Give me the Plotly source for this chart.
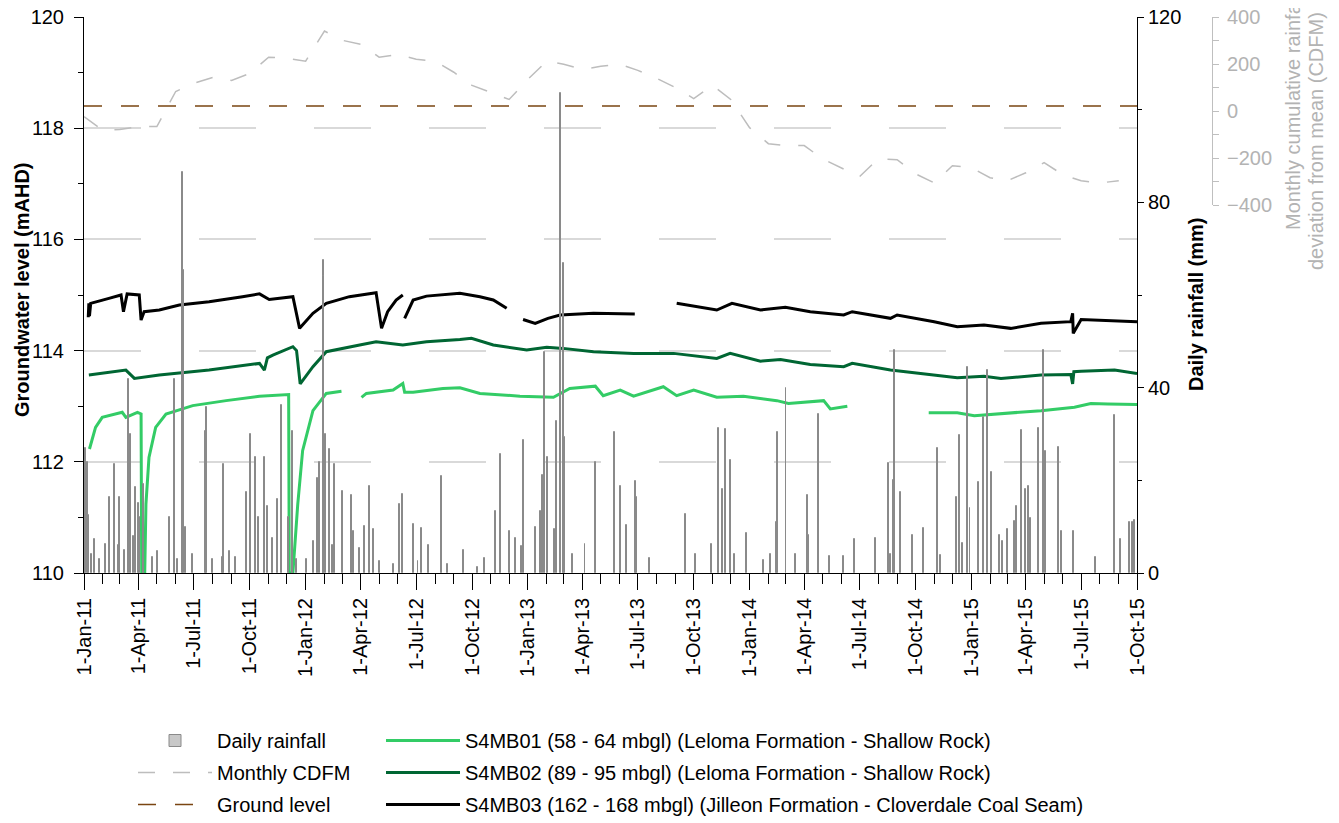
import pandas as pd
import plotly.graph_objects as go

START = pd.Timestamp("2011-01-01")

# ---------------- data ----------------
# Daily rainfall events (days since 1-Jan-2011, mm); other days ~0
rain_day = [1, 2, 5, 8, 12, 18, 25, 36, 42, 50, 56, 59, 66, 73, 76, 81, 85, 89, 91, 98,
            112, 121, 141, 149, 154, 162, 164, 167, 178, 200, 201, 212, 228, 230, 239, 250,
            267, 274, 282, 287, 297, 302, 311, 319, 326, 337, 344, 350, 366, 378, 385, 388,
            394, 395, 398, 404, 409, 413, 426, 440, 443, 454, 462, 470, 476, 487, 509, 520,
            525, 542, 550, 556, 568, 589, 599, 625, 648, 660, 677, 686, 700, 710, 721, 724,
            744, 751, 755, 758, 763, 774, 778, 784, 790, 792, 805, 825, 842, 873, 884, 894,
            908, 910, 931, 990, 1007, 1033, 1045, 1051, 1057, 1064, 1071, 1091, 1119, 1131,
            1140, 1142, 1156, 1172, 1191, 1193, 1210, 1228, 1251, 1268, 1304, 1324, 1328,
            1333, 1335, 1345, 1364, 1382, 1406, 1411, 1436, 1441, 1446, 1455, 1459, 1473,
            1481, 1488, 1494, 1508, 1513, 1521, 1533, 1536, 1543, 1551, 1555, 1559, 1572,
            1580, 1584, 1604, 1609, 1629, 1665, 1697, 1707, 1722, 1726, 1730]
rain_mm = [4, 27, 24, 12.5, 4, 7.3, 3, 6.2, 16.3, 23.5, 6, 16.3, 5, 41.9, 30, 8, 18.5, 15.2, 12, 19.2,
           3.5, 4.8, 12, 41.9, 3, 86.6, 65.4, 10, 4, 30.7, 35.8, 3, 3.5, 23.5, 4.8, 3.5,
           17.4, 30, 25, 12, 25, 14.5, 7.6, 16, 36.2, 12, 30.7, 3, 3, 7, 20.6, 23.9,
           67.6, 64, 30, 26.8, 6, 23.5, 17.8, 16.9, 9, 5.5, 10.2, 18.8, 9.5, 2.5, 2, 14.9,
           17, 10.5, 2.5, 9.8, 6, 21, 2, 4.9, 1.4, 3.2, 13.4, 25.6, 9.1, 7.6, 5.9, 28.6,
           9.9, 13.4, 21.2, 47.7, 25, 9.6, 32.8, 103.7, 67, 29.3, 4, 6.3, 24, 30.4, 18.8, 10.3,
           19.9, 16.4, 3.2, 12.8, 4.1, 6.3, 31.3, 18.1, 31.1, 24.3, 4, 8.7, 2.9, 4,
           11, 30.5, 40, 4, 16.9, 8.3, 34.4, 3.6, 3.6, 7.3, 7.6, 23.7, 4,
           20.1, 48.2, 17.4, 8.3, 9.8, 27, 3.9, 16.3, 29.7, 6.5, 44.5, 14, 19.6,
           33.6, 43.8, 21.7, 8.3, 7, 9.4, 11.2, 14.4, 30.8, 18.1, 18.8, 11.9, 31.3,
           48.1, 26.4, 27.1, 9, 9, 3.4, 34.2, 7.3, 11, 11.1, 11.5]

# Monthly CDFM (mm), first of each month from Jan-2011
cdfm_values = [-24, -83, -79, -66, -66, 83, 118, 143, 130, 160, 229, 224,
               212, 340, 301, 284, 229, 241, 220, 212, 165, 109, 79, 49,
               135, 212, 199, 177, 190, 199, 173, 139, 100, 53, 109, 49,
               -71, -139, -147, -147, -203, -242, -280, -203, -207, -267, -306, -233,
               -241, -284, -297, -263, -220, -271, -297, -306, -297]

ground_level = 118.4

# Groundwater levels (days since 1-Jan-2011, mAHD); None = logger gap
s4mb01_day = [9, 19, 30, 63, 69, 88, 94, 95, 100, 102, 107, 118, 135, 179, 234, 289, 337, 338,
              344, 352, 360, 377, 399, 424, None, 457, 465, 509, 525, 528, 542, 591, 619, 652,
              718, 773, 800, 842, 855, 883, 905, 954, 976, 1004, 1042, 1086, 1141, 1160, 1218,
              1229, 1257, None, 1391, 1438, 1466, 1504, 1576, 1631, 1658, 1686, 1734]
s4mb01_lvl = [112.23, 112.62, 112.80, 112.89, 112.80, 112.89, 112.86, 110.0, 110.0, 111.24,
              112.08, 112.62, 112.86, 113.01, 113.10, 113.18, 113.21, 110.0, 110.0, 111.24,
              112.20, 112.92, 113.23, 113.27, None, 113.16, 113.23, 113.29, 113.41, 113.25,
              113.25, 113.32, 113.33, 113.23, 113.18, 113.16, 113.32, 113.36, 113.19, 113.29,
              113.18, 113.35, 113.19, 113.29, 113.16, 113.18, 113.10, 113.05, 113.10, 112.95,
              113.00, None, 112.88, 112.88, 112.83, 112.86, 112.92, 112.98, 113.05, 113.04,
              113.03]

s4mb02_day = [8, 69, 83, 124, 206, 289, 297, 302, 311, 344, 350, 356, 377, 399, 454, 481, 525,
              564, 619, 638, 674, 729, 762, 789, 839, 905, 971, 1042, 1064, 1114, 1147, 1196,
              1251, 1265, 1328, 1389, 1438, 1482, 1510, 1576, 1625, 1628, 1630, 1642, 1697, 1734]
s4mb02_lvl = [113.56, 113.65, 113.50, 113.56, 113.65, 113.77, 113.65, 113.87, 113.92, 114.07,
              114.00, 113.40, 113.71, 113.98, 114.10, 114.16, 114.10, 114.16, 114.20, 114.22,
              114.10, 114.01, 114.06, 114.04, 113.98, 113.95, 113.95, 113.86, 113.95, 113.81,
              113.84, 113.75, 113.71, 113.77, 113.65, 113.57, 113.51, 113.54, 113.50, 113.56,
              113.57, 113.40, 113.62, 113.63, 113.65, 113.59]

s4mb03_day = [7, 8, 9, 11, 41, 61, 65, 71, 91, 94, 99, 124, 157, 206, 261, 289, 305, 344, 355,
              377, 399, 437, 481, 490, 500, 514, 525, None, 528, 542, 564, 619, 652, 674, 696,
              None, 723, 743, 764, 784, 839, 872, 907, None, 976, 1042, 1067, 1114, 1155, 1196,
              1251, 1265, 1328, 1339, 1400, 1438, 1482, 1526, 1576, 1625, 1628, 1629, 1642,
              1686, 1734]
s4mb03_lvl = [114.60, 114.85, 114.62, 114.85, 114.94, 115.00, 114.70, 115.02, 115.00, 114.55,
              114.70, 114.73, 114.82, 114.88, 114.97, 115.02, 114.92, 114.97, 114.40, 114.67,
              114.85, 114.97, 115.04, 114.40, 114.70, 114.91, 115.00, None, 114.58, 114.91,
              114.98, 115.03, 114.97, 114.91, 114.76, None, 114.56, 114.49, 114.58, 114.64,
              114.67, 114.67, 114.66, None, 114.85, 114.73, 114.85, 114.73, 114.78, 114.70,
              114.64, 114.70, 114.58, 114.64, 114.52, 114.43, 114.46, 114.40, 114.49, 114.52,
              114.67, 114.31, 114.56, 114.54, 114.52]

tick_dates = ["2011-01-01", "2011-04-01", "2011-07-01", "2011-10-01", "2012-01-01",
              "2012-04-01", "2012-07-01", "2012-10-01", "2013-01-01", "2013-04-01",
              "2013-07-01", "2013-10-01", "2014-01-01", "2014-04-01", "2014-07-01",
              "2014-10-01", "2015-01-01", "2015-04-01", "2015-07-01", "2015-10-01"]
tick_labels = ["1-Jan-11", "1-Apr-11", "1-Jul-11", "1-Oct-11", "1-Jan-12", "1-Apr-12",
               "1-Jul-12", "1-Oct-12", "1-Jan-13", "1-Apr-13", "1-Jul-13", "1-Oct-13",
               "1-Jan-14", "1-Apr-14", "1-Jul-14", "1-Oct-14", "1-Jan-15", "1-Apr-15",
               "1-Jul-15", "1-Oct-15"]

names = {
    "rain": "Daily rainfall",
    "cdfm": "Monthly CDFM",
    "ground": "Ground level",
    "b1": "S4MB01 (58 - 64 mbgl) (Leloma Formation - Shallow Rock)",
    "b2": "S4MB02 (89 - 95 mbgl) (Leloma Formation - Shallow Rock)",
    "b3": "S4MB03 (162 - 168 mbgl) (Jilleon Formation - Cloverdale Coal Seam)",
}


def to_dates(days):
    return [None if d is None else START + pd.Timedelta(days=d) for d in days]


# ---------------- geometry (page has an 8px body margin) ----------------
OFF = 8
W, H = 1339 - OFF, 823 - OFF
LEFT, RIGHT, TOP, BOTTOM = 84, 1137, 17, 573          # plot area in screen pixels
ML, MT = LEFT - OFF, TOP - OFF
MR = 4
MB = H - (BOTTOM - OFF)
PW, PH = W - ML - MR, H - MT - MB
x_end = (RIGHT - LEFT) / PW
FONT = "Liberation Sans, Arial, sans-serif"


def fx(p):
    return (p - LEFT) / PW


def fy(p):
    return (BOTTOM - p) / PH


fig = go.Figure()

fig.add_trace(go.Bar(
    x=to_dates(rain_day), y=rain_mm, yaxis="y2", name=names["rain"],
    width=1.6 * 86400000, marker=dict(color="#c8c8c8", line=dict(color="#8a8a8a", width=1)),
    legend="legend", legendgroup="g1", legendrank=1))

fig.add_trace(go.Scatter(
    x=[START, pd.Timestamp("2015-10-01")], y=[ground_level, ground_level],
    mode="lines", name=names["ground"],
    line=dict(color="#7a4512", width=1.5, dash="18px,19px"),
    legend="legend", legendgroup="g3", legendrank=3))

for rank, (key, d, v, col) in enumerate([("b1", s4mb01_day, s4mb01_lvl, "#33cc66"),
                                         ("b2", s4mb02_day, s4mb02_lvl, "#006633"),
                                         ("b3", s4mb03_day, s4mb03_lvl, "#000000")]):
    fig.add_trace(go.Scatter(
        x=to_dates(d), y=v, mode="lines", name=names[key], connectgaps=False,
        line=dict(color=col, width=3),
        legend="legend2", legendgroup=key, legendrank=10 + rank))

fig.add_trace(go.Scatter(
    x=pd.date_range("2011-01-01", periods=len(cdfm_values), freq="MS"), y=cdfm_values,
    yaxis="y3", mode="lines", name=names["cdfm"],
    line=dict(color="#bdbdbd", width=1.5, dash="17px,18px"),
    legend="legend", legendgroup="g2", legendrank=2))

gridc = "#d9d9d9"
fig.update_layout(
    width=W, height=H,
    margin=dict(l=ML, r=MR, t=MT, b=MB, pad=0, autoexpand=False),
    paper_bgcolor="white", plot_bgcolor="rgba(0,0,0,0)",
    font=dict(family=FONT, size=20, color="black"),
    bargap=0,
    showlegend=True,
    xaxis=dict(
        domain=[0, x_end], type="date", range=["2011-01-01", "2015-10-01"],
        tickvals=tick_dates, ticktext=tick_labels, tickangle=-90,
        ticks="outside", ticklen=16, tickwidth=1, tickcolor="black",
        minor=dict(dtick="M1", tick0="2011-01-01", ticks="outside", ticklen=10,
                   tickcolor="black", showgrid=False),
        showline=True, linecolor="black", linewidth=1, showgrid=False, zeroline=False,
        tickfont=dict(size=20), automargin=False, ticklabeloverflow="allow",
    ),
    yaxis=dict(
        range=[110, 120], dtick=2, tick0=110,
        ticks="outside", ticklen=9, tickcolor="black", ticklabelstandoff=6,
        minor=dict(dtick=1, ticks="outside", ticklen=5, tickcolor="black", showgrid=False),
        showline=True, linecolor="black", linewidth=1,
        showgrid=True, gridcolor=gridc, gridwidth=1.5, griddash="57px,58px",
        zeroline=False, automargin=False, ticklabeloverflow="allow",
    ),
    yaxis2=dict(
        overlaying="y", side="right", anchor="x", range=[0, 120],
        tickvals=[0, 40, 80, 120], ticks="outside", ticklen=6, tickcolor="black",
        minor=dict(dtick=20, ticks="outside", ticklen=4, tickcolor="black", showgrid=False),
        showline=True, linecolor="black", linewidth=1, showgrid=False, zeroline=False,
        automargin=False, ticklabeloverflow="allow",
    ),
    yaxis3=dict(
        domain=[fy(205), 1], anchor="free", position=fx(1212),
        side="right", range=[-400, 400], dtick=200, tick0=0,
        ticks="outside", ticklen=6, tickcolor="#bfbfbf", ticklabelstandoff=4,
        minor=dict(dtick=100, ticks="outside", ticklen=6, tickcolor="#bfbfbf", showgrid=False),
        showline=True, linecolor="#bfbfbf", linewidth=1, showgrid=False, zeroline=False,
        tickfont=dict(color="#b3b3b3", size=20), automargin=False, ticklabeloverflow="allow",
    ),
    legend=dict(
        x=fx(133), y=fy(721), xanchor="left", yanchor="top", orientation="v",
        font=dict(size=20), itemwidth=74, tracegroupgap=3,
        bgcolor="rgba(0,0,0,0)", traceorder="grouped",
    ),
    legend2=dict(
        x=fx(381), y=fy(721), xanchor="left", yanchor="top", orientation="v",
        font=dict(size=20), itemwidth=74, tracegroupgap=3,
        bgcolor="rgba(0,0,0,0)", traceorder="grouped",
    ),
    annotations=[
        dict(text="<b>Groundwater level (mAHD)</b>", textangle=-90, showarrow=False,
             xref="paper", yref="paper", x=fx(22), y=fy(290),
             xanchor="center", yanchor="middle", font=dict(size=20, color="black")),
        dict(text="<b>Daily rainfall (mm)</b>", textangle=-90, showarrow=False,
             xref="paper", yref="paper", x=fx(1196), y=fy(305),
             xanchor="center", yanchor="middle", font=dict(size=20, color="black")),
        dict(text="Monthly cumulative rainfall", textangle=-90, showarrow=False,
             xref="paper", yref="paper", x=fx(1293), y=fy(112),
             xanchor="center", yanchor="middle", font=dict(size=20, color="#b3b3b3")),
        dict(text="deviation from mean (CDFM) (mm)", textangle=-90, showarrow=False,
             xref="paper", yref="paper", x=fx(1316), y=fy(115),
             xanchor="center", yanchor="middle", font=dict(size=20, color="#b3b3b3")),
    ],
    shapes=[
        dict(type="rect", xref="paper", yref="paper",
             x0=fx(1336), x1=fx(1345), y0=fy(830), y1=fy(-10),
             fillcolor="#1f5b9c", line=dict(width=0), layer="above"),
    ],
)

fig.write_html("out.html")
